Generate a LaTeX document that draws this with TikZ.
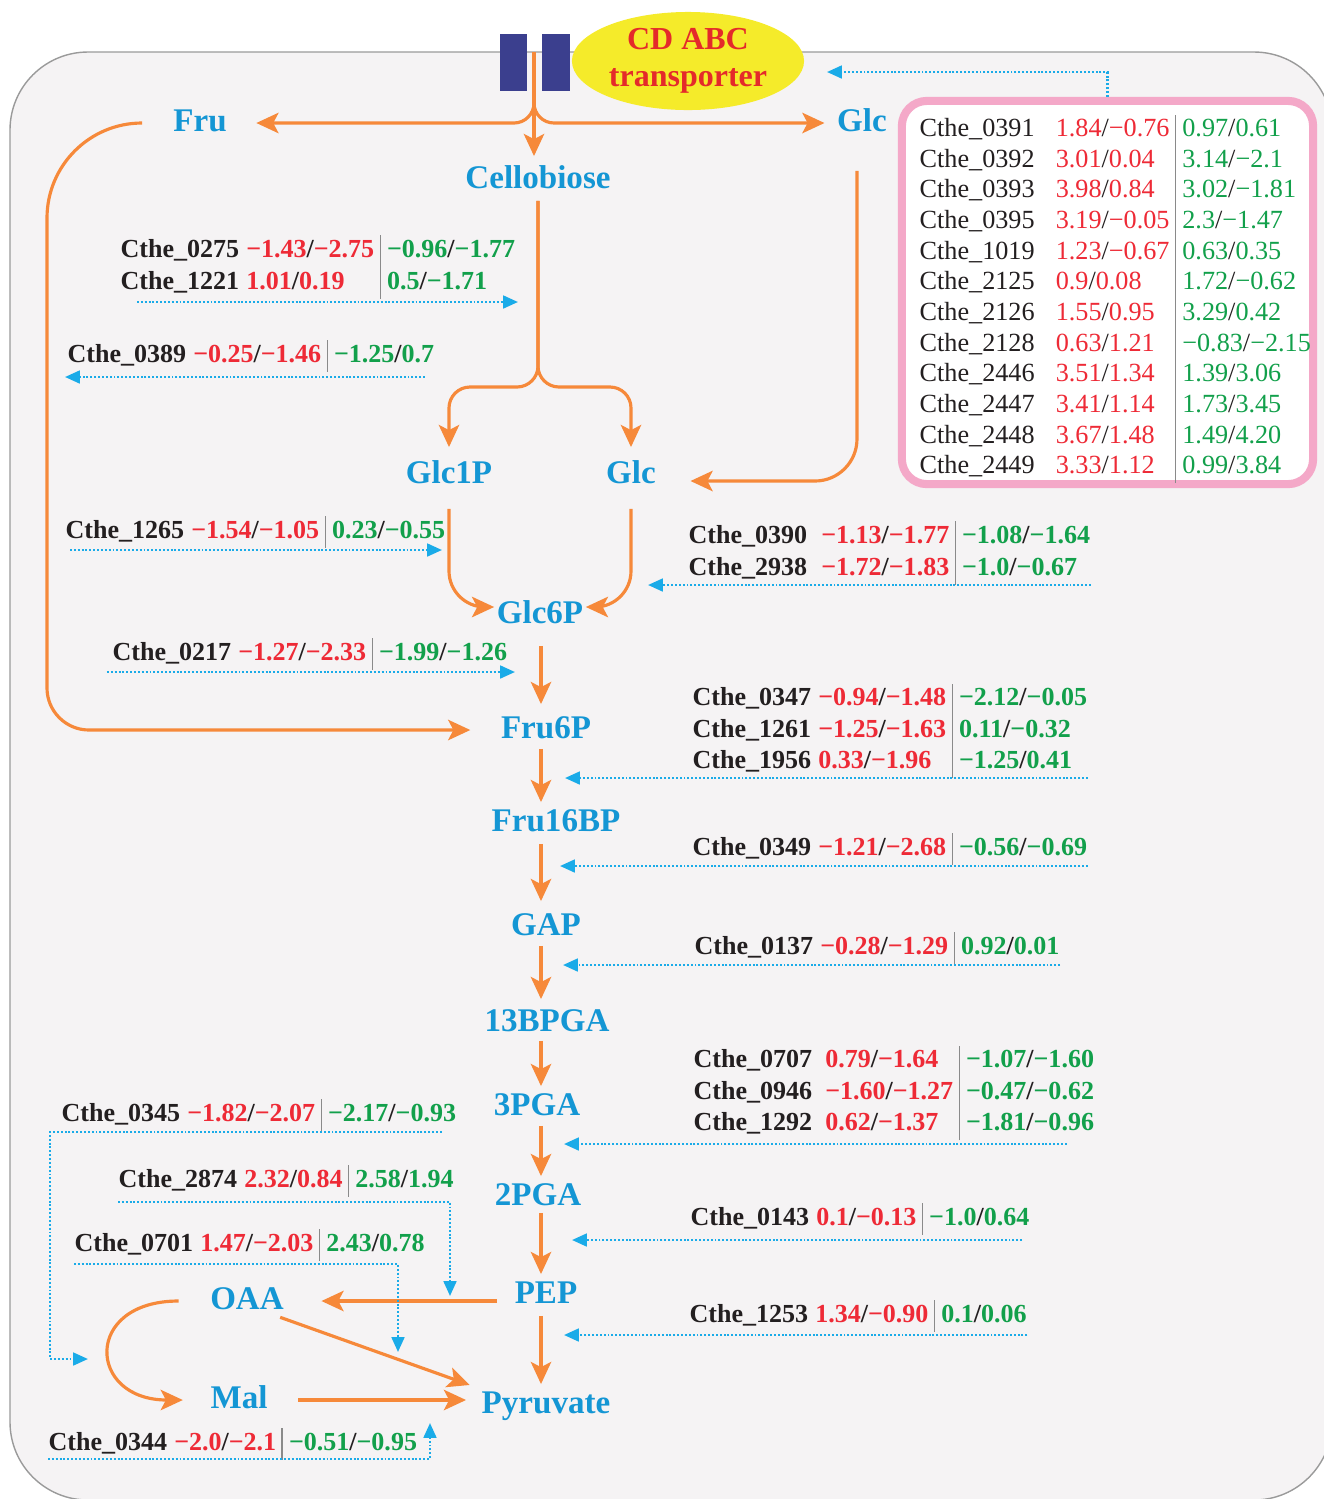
\documentclass[tikz,border=0pt]{standalone}
\usepackage{fontspec}
\setmainfont{Liberation Serif}
\usepackage{array}
\usetikzlibrary{arrows.meta,shapes.geometric,calc}

\definecolor{cellfill}{HTML}{F5F3F4}
\definecolor{cellline}{HTML}{9A9A9A}
\definecolor{floworange}{HTML}{F6893A}
\definecolor{metblue}{HTML}{1496D4}
\definecolor{regblue}{HTML}{1AABE8}
\definecolor{upred}{HTML}{EE2A36}
\definecolor{dngreen}{HTML}{12A04B}
\definecolor{genegray}{HTML}{231F20}
\definecolor{sepgray}{HTML}{8A8A8A}
\definecolor{porterblue}{HTML}{3B3F8E}
\definecolor{cdyellow}{HTML}{F5EB2A}
\definecolor{cdred}{HTML}{E42A2A}
\definecolor{boxpink}{HTML}{F4A8C8}

\newcommand{\rv}[1]{\textcolor{upred}{#1}}
\newcommand{\gv}[1]{\textcolor{dngreen}{#1}}
\newcommand{\generow}[5]{Cthe\_#1 & \rv{#2}/\rv{#3} & \gv{#4}/\gv{#5}}
\newcolumntype{V}{@{\hspace{1.5pt}\textcolor{sepgray}{\vrule width .35pt}\hspace{1.8pt}}}
\newenvironment{genetab}[1][2pt]{\begin{tabular}{@{}l@{\hspace{#1}}lVl@{}}}{\end{tabular}}

\tikzset{
  met/.style={text=metblue, font=\bfseries\fontsize{9.4}{11}\selectfont, inner sep=0pt, text height=6.4pt, text depth=1.7pt},
  gene/.style={anchor=west, inner sep=0pt, text=genegray, font=\bfseries\fontsize{7.4}{9}\selectfont},
  flow/.style={draw=floworange, line width=0.9pt, -{Stealth[length=6.3pt,width=5.8pt,inset=1.5pt]}},
  reg/.style={draw=regblue, line width=0.7pt, dash pattern=on 0.55pt off 0.55pt, -{Triangle[length=4.2pt,width=3.6pt]}},
  porter/.style={fill=porterblue, minimum width=0.27cm, minimum height=0.57cm, inner sep=0pt},
  tabbox/.style={draw=boxpink, line width=2.3pt, fill=white, rounded corners=0.25cm, minimum width=4.11cm, minimum height=3.83cm, inner sep=0pt}
}

\begin{document}
\begin{tikzpicture}[x=0.01cm,y=-0.01cm]
\useasboundingbox (0,0) rectangle (1323,1499);
\draw[cellline, line width=0.4pt, fill=cellfill, rounded corners=0.78cm] (10,52) rectangle (1332,1500);

% transporter
\node[porter] (porta) at (513.5,62.5) {};
\node[porter] (portb) at (556,62.5) {};
\node[ellipse, fill=cdyellow, minimum width=2.32cm, minimum height=0.98cm, inner sep=0pt, text=cdred, font=\bfseries\fontsize{9.1}{10.4}\selectfont, align=center] (cdabc) at (688,61) {CD ABC\\transporter};

% metabolites
\node[met] (fru) at (200,123) {Fru};
\node[met] (glct) at (862,123) {Glc};
\node[met] (cello) at (538,180) {Cellobiose};
\node[met] (glc1p) at (449,475) {Glc1P};
\node[met] (glcm) at (631,475) {Glc};
\node[met] (glc6p) at (540,615) {Glc6P};
\node[met] (fru6p) at (546,730) {Fru6P};
\node[met] (fru16bp) at (556,823) {Fru16BP};
\node[met] (gap) at (546,927) {GAP};
\node[met] (bpga) at (547,1023) {13BPGA};
\node[met] (pga3) at (537,1107) {3PGA};
\node[met] (pga2) at (538,1197) {2PGA};
\node[met] (pep) at (546,1295) {PEP};
\node[met] (oaa) at (247,1301) {OAA};
\node[met] (mal) at (239,1400) {Mal};
\node[met] (pyr) at (546,1405) {Pyruvate};

% transporter genes
\node[tabbox] (tabbox) at (1107.5,292.5) {};
\node[anchor=west, inner sep=0pt, text=genegray, font=\fontsize{7.45}{8.73}\selectfont] (tab) at (919,299) {\begin{genetab}[6pt]
\generow{0391}{1.84}{−0.76}{0.97}{0.61}\\
\generow{0392}{3.01}{0.04}{3.14}{−2.1}\\
\generow{0393}{3.98}{0.84}{3.02}{−1.81}\\
\generow{0395}{3.19}{−0.05}{2.3}{−1.47}\\
\generow{1019}{1.23}{−0.67}{0.63}{0.35}\\
\generow{2125}{0.9}{0.08}{1.72}{−0.62}\\
\generow{2126}{1.55}{0.95}{3.29}{0.42}\\
\generow{2128}{0.63}{1.21}{−0.83}{−2.15}\\
\generow{2446}{3.51}{1.34}{1.39}{3.06}\\
\generow{2447}{3.41}{1.14}{1.73}{3.45}\\
\generow{2448}{3.67}{1.48}{1.49}{4.20}\\
\generow{2449}{3.33}{1.12}{0.99}{3.84}
\end{genetab}};

% enzyme genes
\node[gene] (g0275) at (120,267) {\begin{genetab}
\generow{0275}{−1.43}{−2.75}{−0.96}{−1.77}\\
\generow{1221}{1.01}{0.19}{0.5}{−1.71}
\end{genetab}};
\node[gene] (g0389) at (67,356) {\begin{genetab}\generow{0389}{−0.25}{−1.46}{−1.25}{0.7}\end{genetab}};
\node[gene] (g1265) at (65,532) {\begin{genetab}\generow{1265}{−1.54}{−1.05}{0.23}{−0.55}\end{genetab}};
\node[gene] (g0390) at (688,553) {\begin{genetab}[4pt]
\generow{0390}{−1.13}{−1.77}{−1.08}{−1.64}\\
\generow{2938}{−1.72}{−1.83}{−1.0}{−0.67}
\end{genetab}};
\node[gene] (g0217) at (112,654) {\begin{genetab}\generow{0217}{−1.27}{−2.33}{−1.99}{−1.26}\end{genetab}};
\node[gene] (g0347) at (692,731) {\begin{genetab}
\generow{0347}{−0.94}{−1.48}{−2.12}{−0.05}\\
\generow{1261}{−1.25}{−1.63}{0.11}{−0.32}\\
\generow{1956}{0.33}{−1.96}{−1.25}{0.41}
\end{genetab}};
\node[gene] (g0349) at (692,849) {\begin{genetab}\generow{0349}{−1.21}{−2.68}{−0.56}{−0.69}\end{genetab}};
\node[gene] (g0137) at (694,948) {\begin{genetab}\generow{0137}{−0.28}{−1.29}{0.92}{0.01}\end{genetab}};
\node[gene] (g0707) at (693,1093) {\begin{genetab}[3.7pt]
\generow{0707}{0.79}{−1.64}{−1.07}{−1.60}\\
\generow{0946}{−1.60}{−1.27}{−0.47}{−0.62}\\
\generow{1292}{0.62}{−1.37}{−1.81}{−0.96}
\end{genetab}};
\node[gene] (g0143) at (690,1219) {\begin{genetab}\generow{0143}{0.1}{−0.13}{−1.0}{0.64}\end{genetab}};
\node[gene] (g1253) at (689,1316) {\begin{genetab}\generow{1253}{1.34}{−0.90}{0.1}{0.06}\end{genetab}};
\node[gene] (g0345) at (61,1115) {\begin{genetab}\generow{0345}{−1.82}{−2.07}{−2.17}{−0.93}\end{genetab}};
\node[gene] (g2874) at (118,1181) {\begin{genetab}\generow{2874}{2.32}{0.84}{2.58}{1.94}\end{genetab}};
\node[gene] (g0701) at (74,1245) {\begin{genetab}\generow{0701}{1.47}{−2.03}{2.43}{0.78}\end{genetab}};
\node[gene] (g0344) at (48,1444) {\begin{genetab}\generow{0344}{−2.0}{−2.1}{−0.51}{−0.95}\end{genetab}};

% uptake and branches
\coordinate (entry) at (534,52);
\coordinate (fruturn) at (47,400);
\coordinate (fork) at (538,387);
\coordinate (spine) at (541,0);
\draw[flow, shorten >=0.09cm] (entry) -- (entry |- cello.north);
\draw[flow, rounded corners=0.2cm, shorten >=0.29cm] (entry) |- (fru.east);
\draw[flow, rounded corners=0.2cm, shorten >=0.12cm] (entry) |- (glct.west);
\draw[flow, shorten <=0.32cm, shorten >=0.3cm] (fru.west) [rounded corners=0.95cm] -| (fruturn) [rounded corners=0.42cm] |- (fru6p.west);
\draw[flow, rounded corners=0.42cm, shorten <=0.33cm, shorten >=0.34cm] ([xshift=-0.05cm]glct.south) |- ([yshift=-0.06cm]glcm.east);
\draw[flow, rounded corners=0.21cm, shorten <=0.06cm, shorten >=0.13cm] (cello.south) -- (fork) -| (glc1p.north);
\draw[flow, rounded corners=0.21cm, shorten <=0.06cm, shorten >=0.13cm] (cello.south) -- (fork) -| (glcm.north);
\draw[flow, rounded corners=0.36cm, shorten <=0.19cm, shorten >=0.02cm] (glc1p.south) |- ([yshift=0.08cm]glc6p.west);
\draw[flow, rounded corners=0.36cm, shorten <=0.19cm, shorten >=0.02cm] (glcm.south) |- ([yshift=0.08cm]glc6p.east);

% glycolysis
\foreach \a/\b/\s/\e in {glc6p/fru6p/0.16/0.11, fru6p/fru16bp/0.04/0.06, fru16bp/gap/0.06/0.11, gap/bpga/0.04/0.09, bpga/pga3/0.03/0.06, pga3/pga2/0.04/0.06, pga2/pep/0.01/0.06, pep/pyr/0.06/0.06}
  \draw[flow, shorten <=\s cm, shorten >=\e cm] (spine |- \a.south) -- (spine |- \b.north);
\draw[flow, shorten <=0.17cm, shorten >=0.37cm] (pep.west |- oaa.east) -- (oaa.east);
\draw[flow, shorten <=0.04cm, shorten >=0.12cm] ([xshift=-0.08cm]oaa.south east) -- ([yshift=0.16cm]pyr.west);
\draw[flow, shorten <=0.3cm, shorten >=0.15cm] (mal.east) -- (mal.east -| pyr.west);
\draw[flow] ([xshift=-0.31cm]oaa.west) to[out=180, in=180, looseness=2.47] ([xshift=-0.27cm]mal.west);

% regulation
\coordinate (ttrans) at (827,72);
\coordinate (t0275) at (518,302);
\coordinate (t0389) at (65,377);
\coordinate (t1265) at (442,550);
\coordinate (t0390) at (648,585);
\coordinate (t0217) at (515,672);
\coordinate (t0347) at (565,778);
\coordinate (t0349) at (560,866);
\coordinate (t0137) at (563,965);
\coordinate (t0707) at (564,1144);
\coordinate (t0143) at (572,1240);
\coordinate (t1253) at (564,1335);
\coordinate (c0345) at (50,1132);
\coordinate (t0345) at (88,1359);
\coordinate (c2874) at (450,1202);
\coordinate (t2874) at (450,1296);
\coordinate (c0701) at (398,1264);
\coordinate (t0701) at (398,1352);
\coordinate (c0344) at (430,1459);
\coordinate (t0344) at (430,1423);
\draw[reg] (tabbox.north) |- (ttrans);
\draw[reg] ([xshift=0.17cm]g0275.west |- t0275) -- (t0275);
\draw[reg] ([xshift=-0.1cm]g0389.east |- t0389) -- (t0389);
\draw[reg] ([xshift=0.05cm]g1265.west |- t1265) -- (t1265);
\draw[reg] (g0390.east |- t0390) -- (t0390);
\draw[reg] ([xshift=-0.05cm]g0217.west |- t0217) -- (t0217);
\draw[reg] (g0347.east |- t0347) -- (t0347);
\draw[reg] (g0349.east |- t0349) -- (t0349);
\draw[reg] (g0137.east |- t0137) -- (t0137);
\draw[reg] ([xshift=-0.28cm]g0707.east |- t0707) -- (t0707);
\draw[reg] ([xshift=-0.08cm]g0143.east |- t0143) -- (t0143);
\draw[reg] (g1253.east |- t1253) -- (t1253);
\draw[reg] ([xshift=-0.15cm]g0345.east |- c0345) -- (c0345) |- (t0345);
\draw[reg] (g2874.west |- c2874) -- (c2874) -- (t2874);
\draw[reg] (g0701.west |- c0701) -- (c0701) -- (t0701);
\draw[reg] (g0344.west |- c0344) -- (c0344) -- (t0344);
\end{tikzpicture}
\end{document}
